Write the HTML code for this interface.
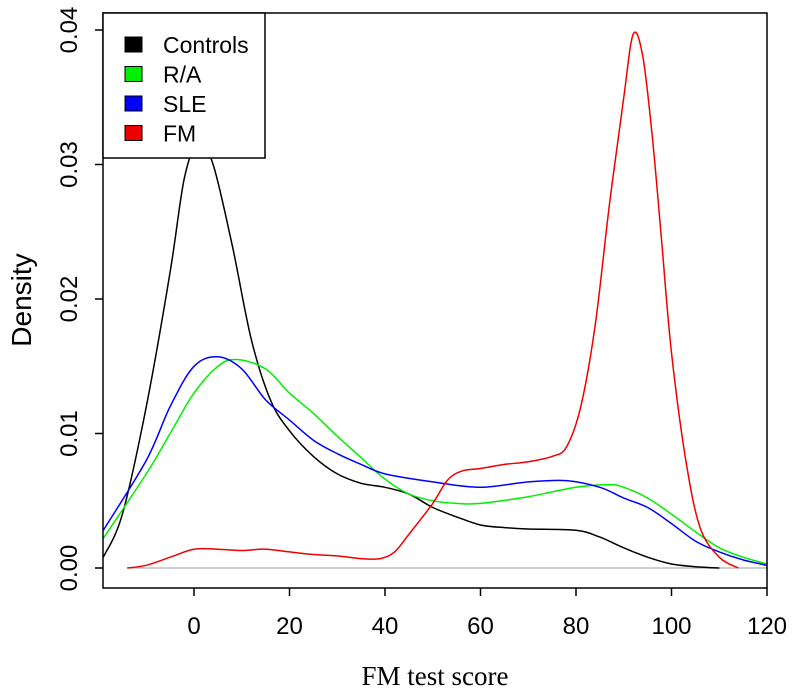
<!DOCTYPE html>
<html><head><meta charset="utf-8"><style>
body{margin:0;background:#fff}
svg{display:block;font-family:"Liberation Sans",sans-serif}
</style></head><body>
<svg id="chart" width="796" height="692" xmlns="http://www.w3.org/2000/svg">
<g id="marks"></g>
<g id="axes"></g>
</svg>
<script>
const xTicks=[0,20,40,60,80,100,120];
const yTicks=[0,0.01,0.02,0.03,0.04];
const yTickLabels=["0.00","0.01","0.02","0.03","0.04"];
const controlsX=[-19,-15,-10,-5,-2,1,4,8,12,16,20,25,30,35,40,45,50,55,60,65,70,80,85,90,95,100,105,110];
const controlsY=[0.0008,0.004,0.012,0.022,0.029,0.0317,0.030,0.024,0.017,0.0125,0.0102,0.0083,0.007,0.0063,0.006,0.0055,0.0045,0.0038,0.0032,0.003,0.0029,0.0028,0.0023,0.0015,0.0008,0.0003,0.0001,0];
const raX=[-19,-10,-5,0,5,9,15,20,25,30,35,40,45,50,55,60,70,80,87,90,95,100,105,110,115,120];
const raY=[0.0022,0.007,0.010,0.013,0.015,0.0155,0.0148,0.013,0.0115,0.0098,0.0082,0.0066,0.0055,0.005,0.0048,0.0048,0.0053,0.006,0.0062,0.006,0.0052,0.004,0.0027,0.0015,0.0008,0.0003];
const sleX=[-19,-10,-5,0,5,10,15,20,25,30,35,40,50,60,70,78,85,90,95,100,105,110,115,120];
const sleY=[0.0028,0.008,0.012,0.015,0.0157,0.0148,0.0125,0.011,0.0095,0.0085,0.0077,0.007,0.0064,0.006,0.0064,0.0065,0.006,0.0052,0.0045,0.0033,0.002,0.0012,0.0006,0.0002];
const fmX=[-14,-10,-5,0,5,10,15,20,25,30,35,39,42,45,50,53,56,60,65,70,75,78,81,84,87,90,92,94,96,98,100,103,106,110,114];
const fmY=[0,0.0002,0.0008,0.0014,0.0014,0.0013,0.0014,0.0012,0.001,0.0009,0.0007,0.0007,0.0012,0.0025,0.0048,0.0065,0.0072,0.0074,0.0077,0.0079,0.0083,0.009,0.012,0.018,0.027,0.035,0.0397,0.038,0.032,0.024,0.016,0.008,0.003,0.0008,0];
const seriesNames=["Controls","R/A","SLE","FM"];
const seriesColors=["#000000","#00ee00","#0000ff","#ee0000"];

const L=103,R=767,T=13,B=588;
const sx=v=>194+(v-0)*(767-194)/120;
const sy=v=>568-v*(568-30)/0.04;
const NS="http://www.w3.org/2000/svg";
function mk(tag,attrs,parent,text){const e=document.createElementNS(NS,tag);for(const k in attrs)e.setAttribute(k,attrs[k]);if(text!==undefined)e.textContent=text;parent.appendChild(e);return e;}
function smooth(pts){
  let d='M'+pts[0][0].toFixed(1)+','+pts[0][1].toFixed(1);
  for(let i=0;i<pts.length-1;i++){
    const p0=pts[Math.max(0,i-1)],p1=pts[i],p2=pts[i+1],p3=pts[Math.min(pts.length-1,i+2)];
    const c1x=p1[0]+(p2[0]-p0[0])/6,c1y=p1[1]+(p2[1]-p0[1])/6;
    const c2x=p2[0]-(p3[0]-p1[0])/6,c2y=p2[1]-(p3[1]-p1[1])/6;
    d+='C'+c1x.toFixed(1)+','+c1y.toFixed(1)+' '+c2x.toFixed(1)+','+c2y.toFixed(1)+' '+p2[0].toFixed(1)+','+p2[1].toFixed(1);
  }
  return d;
}
const marks=document.getElementById('marks'),axes=document.getElementById('axes');
const zl=mk('line',{x1:127,x2:R,y1:sy(0),y2:sy(0),stroke:'#bebebe','stroke-width':1.5},marks);


const sets=[[controlsX,controlsY],[raX,raY],[sleX,sleY],[fmX,fmY]];
const names=['controls-curve','ra-curve','sle-curve','fm-curve'];
sets.forEach((s,i)=>{
  const pts=s[0].map((x,j)=>[sx(x),sy(s[1][j])]);
  const p=mk('path',{d:smooth(pts),fill:'none',stroke:seriesColors[i],'stroke-width':1.5,'stroke-linejoin':'round'},marks);
  
  
});
const box=mk('rect',{x:L,y:T,width:R-L,height:B-T,fill:'none',stroke:'#000','stroke-width':1.5},axes);


xTicks.forEach(t=>{
  const l=mk('line',{x1:sx(t),x2:sx(t),y1:B,y2:B+8,stroke:'#000','stroke-width':1.5},axes);
  
  
  const tx=mk('text',{x:sx(t),y:634,'font-size':24,'text-anchor':'middle'},axes,String(t));
  
  
});
yTicks.forEach((t,i)=>{
  const l=mk('line',{x1:L-8,x2:L,y1:sy(t),y2:sy(t),stroke:'#000','stroke-width':1.5},axes);
  
  
  const tx=mk('text',{x:0,y:0,'font-size':24,'text-anchor':'middle',transform:`translate(77,${sy(t)}) rotate(-90)`},axes,yTickLabels[i]);
  
  
});
const xt=mk('text',{x:435,y:685,'font-size':27,'text-anchor':'middle','font-family':'Liberation Serif, serif'},axes,'FM test score');


const yt=mk('text',{x:0,y:0,'font-size':28,'text-anchor':'middle',transform:'translate(31,300) rotate(-90)'},axes,'Density');


const lg=mk('rect',{x:L,y:T,width:162,height:145,fill:'#fff',stroke:'#000','stroke-width':1.5},axes);


seriesNames.forEach((n,i)=>{
  const y=45+i*29.5;
  const sw=mk('rect',{x:125,y:y-8,width:17,height:15,fill:seriesColors[i],stroke:'#000','stroke-width':1},axes);
  
  
  const tx=mk('text',{x:163,y:y+8,'font-size':23},axes,n);
  
  
});
</script>
</body></html>
